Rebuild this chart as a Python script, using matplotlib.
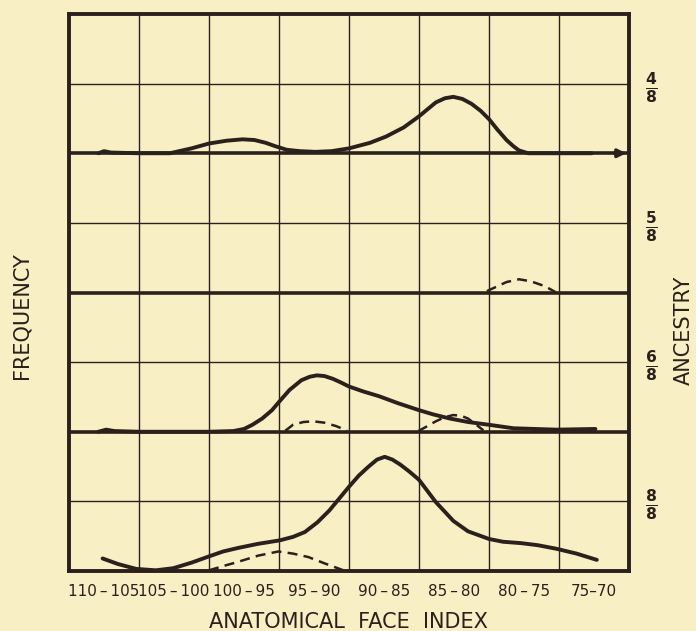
import matplotlib.pyplot as plt
import numpy as np

# class intervals of the anatomical face index (one grid column each)
class_labels = ["110 – 105", "105 – 100", "100 – 95", "95 – 90",
                "90 – 85", "85 – 80", "80 – 75", "75–70"]
panel_labels = ["4", "5", "6", "8"]   # ancestry in eighths, top to bottom

# x = position in class columns (0 = left border), y = height in grid rows above baseline
x_48 = [0.42, 0.5, 0.6, 1.0, 1.44, 1.75, 2.0, 2.25, 2.48, 2.65, 2.81, 2.95, 3.11, 3.3, 3.52,
        3.75, 4.0, 4.3, 4.53, 4.78, 5.0, 5.12, 5.24, 5.37, 5.49, 5.62, 5.75, 5.88, 6.0,
        6.12, 6.25, 6.35, 6.43, 6.56, 7.0, 7.47]
y_48 = [0.0, 0.03, 0.01, 0.0, 0.0, 0.07, 0.14, 0.18, 0.2, 0.19, 0.15, 0.1, 0.05, 0.03, 0.02,
        0.03, 0.07, 0.15, 0.24, 0.37, 0.53, 0.63, 0.73, 0.79, 0.81, 0.78, 0.71, 0.61, 0.49,
        0.34, 0.19, 0.1, 0.04, 0.0, 0.0, 0.0]

x_58_dash = [5.97, 6.1, 6.25, 6.43, 6.6, 6.8, 6.96]
y_58_dash = [0.02, 0.08, 0.15, 0.19, 0.16, 0.09, 0.0]

x_68 = [0.42, 0.53, 0.65, 1.0, 2.0, 2.35, 2.5, 2.62, 2.76, 2.9, 3.01, 3.15, 3.32, 3.44, 3.54,
        3.65, 3.77, 3.88, 4.0, 4.2, 4.43, 4.7, 5.0, 5.2, 5.44, 5.7, 6.0, 6.35, 6.96, 7.52]
y_68 = [0.0, 0.03, 0.01, 0.0, 0.0, 0.01, 0.04, 0.1, 0.19, 0.31, 0.44, 0.6, 0.74, 0.79, 0.81,
        0.8, 0.76, 0.71, 0.65, 0.58, 0.51, 0.41, 0.31, 0.25, 0.19, 0.14, 0.1, 0.05, 0.03, 0.04]

x_68_dash_a = [3.09, 3.2, 3.35, 3.49, 3.65, 3.82, 3.97]
y_68_dash_a = [0.015, 0.1, 0.14, 0.15, 0.13, 0.08, 0.015]
x_68_dash_b = [4.99, 5.1, 5.24, 5.37, 5.49, 5.6, 5.7, 5.82, 5.92]
y_68_dash_b = [0.01, 0.07, 0.15, 0.21, 0.24, 0.23, 0.19, 0.1, 0.02]

x_88 = [0.48, 0.7, 0.96, 1.24, 1.49, 1.75, 2.0, 2.2, 2.41, 2.7, 3.01, 3.2, 3.37, 3.55, 3.72,
        3.86, 4.0, 4.14, 4.28, 4.4, 4.51, 4.62, 4.73, 4.86, 5.0, 5.12, 5.24, 5.37, 5.49, 5.7,
        6.0, 6.2, 6.46, 6.7, 6.96, 7.25, 7.54]
y_88 = [0.18, 0.1, 0.03, 0.01, 0.04, 0.12, 0.21, 0.28, 0.33, 0.39, 0.44, 0.49, 0.56, 0.7, 0.87,
        1.04, 1.21, 1.37, 1.5, 1.6, 1.64, 1.6, 1.53, 1.43, 1.31, 1.15, 0.99, 0.85, 0.72, 0.57,
        0.46, 0.42, 0.4, 0.37, 0.32, 0.25, 0.16]

x_88_dash = [2.0, 2.2, 2.41, 2.7, 2.99, 3.2, 3.42, 3.65, 3.92]
y_88_dash = [0.01, 0.07, 0.13, 0.22, 0.28, 0.25, 0.2, 0.11, 0.01]

bg = "#f9efc4"
ink = "#2b211c"

fig = plt.figure(figsize=(6.96, 6.31), dpi=100, facecolor=bg)
ax = fig.add_axes([69 / 696, 1 - 571 / 631, 560 / 696, 557 / 631])
ax.set_facecolor(bg)
ax.set_xlim(0, 8)
ax.set_ylim(0, 8)

# grid
for i in range(1, 8):
    ax.axvline(i, color=ink, lw=1.0, zorder=1)
for j in range(1, 8):
    thick = j % 2 == 0
    ax.axhline(j, color=ink, lw=2.6 if thick else 1.0, zorder=1)
for s in ax.spines.values():
    s.set_color(ink)
    s.set_linewidth(2.8)
ax.set_xticks([])
ax.set_yticks([])

# curves, each panel stacked on its own baseline
solid = dict(color=ink, lw=2.8, solid_capstyle="round", solid_joinstyle="round", zorder=3)
dash = dict(color=ink, lw=1.8, ls=(0, (4, 2.5)), zorder=3)

ax.plot(x_48, np.array(y_48) + 6, **solid)
ax.plot(x_58_dash, np.array(y_58_dash) + 4, **dash)
ax.plot(x_68, np.array(y_68) + 2, **solid)
ax.plot(x_68_dash_a, np.array(y_68_dash_a) + 2, **dash)
ax.plot(x_68_dash_b, np.array(y_68_dash_b) + 2, **dash)
ax.plot(x_88, y_88, **solid)
ax.plot(x_88_dash, y_88_dash, **dash)

# little arrow head at the right end of the top baseline
ax.annotate("", xy=(8, 6), xytext=(7.75, 6),
            arrowprops=dict(arrowstyle="-|>", color=ink, lw=2.4, mutation_scale=12),
            annotation_clip=False, zorder=4)

# class labels under the columns (thin spaces so they fit one column each)
for i, lab in enumerate(class_labels):
    ax.text(i + 0.5, -0.3, lab.replace(" ", "\u2009"), ha="center", va="center",
            fontsize=11, color=ink, clip_on=False)

fig.text(0.5, 1 - 622 / 631, "ANATOMICAL  FACE  INDEX", ha="center", va="center",
         fontsize=15, color=ink)
fig.text(22 / 696, 0.5, "FREQUENCY", ha="center", va="center", rotation=90,
         fontsize=15, color=ink)
fig.text(684 / 696, 1 - 330 / 631, "ANCESTRY", ha="center", va="center", rotation=90,
         fontsize=15, color=ink)

# ancestry fractions beside each panel
for k, num in enumerate(panel_labels):
    yc = 7 - 2 * k
    ax.text(8.32, yc - 0.05, r"$\frac{\mathbf{%s}}{\mathbf{8}}$" % num, ha="center",
            va="center", fontsize=16, color=ink, clip_on=False)

fig.savefig("out.png", dpi=100, facecolor=bg)
